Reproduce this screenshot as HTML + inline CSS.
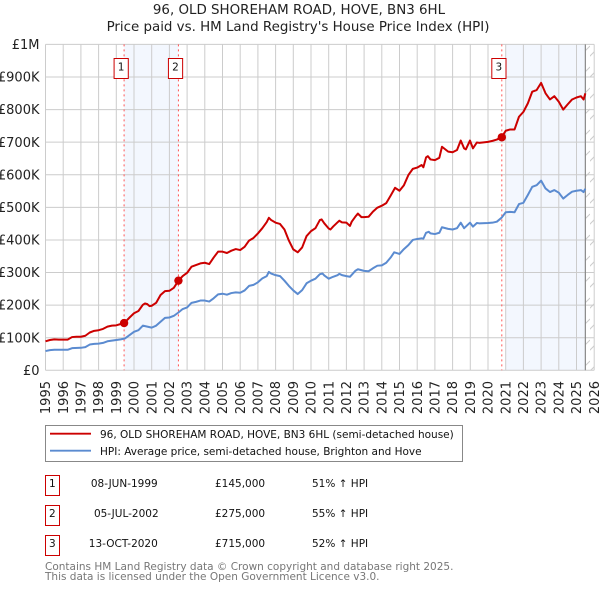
<!DOCTYPE html>
<html lang="en">
<head>
<meta charset="utf-8">
<title>96, OLD SHOREHAM ROAD, HOVE, BN3 6HL</title>
<style>
html,body{margin:0;padding:0;background:#fff;}
svg{display:block;font-family:"DejaVu Sans","Liberation Sans",sans-serif;}
</style>
</head>
<body>
<svg id="chart" xmlns="http://www.w3.org/2000/svg" width="600" height="590" viewBox="0 0 600 590">
  <defs>
    <pattern id="hatch" patternUnits="userSpaceOnUse" width="10" height="21">
      <line x1="-1" y1="15" x2="10" y2="4" stroke="#ccc" stroke-width="1"/>
    </pattern>
  </defs>
  <text x="299" y="14" text-anchor="middle" font-size="13.4" fill="#222">96, OLD SHOREHAM ROAD, HOVE, BN3 6HL</text>
  <text x="298" y="31" text-anchor="middle" font-size="13.4" fill="#222">Price paid vs. HM Land Registry's House Price Index (HPI)</text>
  <g id="shades"></g>
  <g id="grid"></g>
  <g id="ticks"></g>
  <g id="series"></g>
  <g id="sales"></g>

  <g>
    <rect x="45.5" y="425.5" width="417" height="36" fill="#fff" stroke="#888" stroke-width="1"/>
    <line x1="50" y1="433.7" x2="91" y2="433.7" stroke="#c00" stroke-width="1.8"/>
    <text x="100" y="438" font-size="10.5" fill="#111">96, OLD SHOREHAM ROAD, HOVE, BN3 6HL (semi-detached house)</text>
    <line x1="50" y1="450.7" x2="91" y2="450.7" stroke="#5b8bd0" stroke-width="1.8"/>
    <text x="100" y="455" font-size="10.5" fill="#111">HPI: Average price, semi-detached house, Brighton and Hove</text>
  </g>

  <g font-size="10.5" fill="#111">
    <g>
      <rect x="45.5" y="475.5" width="14" height="20" fill="#fff" stroke="#c00" stroke-width="1"/>
      <text x="52.3" y="487" text-anchor="middle">1</text>
      <text x="124.3" y="487" text-anchor="middle">08-JUN-1999</text>
      <text x="215" y="487">£145,000</text>
      <text x="312" y="487">51% ↑ HPI</text>
    </g>
    <g>
      <rect x="45.5" y="505.5" width="14" height="20" fill="#fff" stroke="#c00" stroke-width="1"/>
      <text x="52.3" y="517" text-anchor="middle">2</text>
      <text x="126.3" y="517" text-anchor="middle">05-JUL-2002</text>
      <text x="215" y="517">£275,000</text>
      <text x="312" y="517">55% ↑ HPI</text>
    </g>
    <g>
      <rect x="45.5" y="535.5" width="14" height="20" fill="#fff" stroke="#c00" stroke-width="1"/>
      <text x="52.3" y="547" text-anchor="middle">3</text>
      <text x="123.3" y="547" text-anchor="middle">13-OCT-2020</text>
      <text x="215" y="547">£715,000</text>
      <text x="312" y="547">52% ↑ HPI</text>
    </g>
  </g>

  <text x="45" y="570" font-size="10.5" fill="#777">Contains HM Land Registry data © Crown copyright and database right 2025.</text>
  <text x="45" y="580" font-size="10.5" fill="#777">This data is licensed under the Open Government Licence v3.0.</text>
</svg>
<script>
const yearTicks = [1995,1996,1997,1998,1999,2000,2001,2002,2003,2004,2005,2006,2007,2008,2009,2010,2011,2012,2013,2014,2015,2016,2017,2018,2019,2020,2021,2022,2023,2024,2025,2026];
const valueTicks = [0,100,200,300,400,500,600,700,800,900,1000];
const valueTickLabels = ['£0','£100K','£200K','£300K','£400K','£500K','£600K','£700K','£800K','£900K','£1M'];

const priceDates = [1995,1995.25,1995.5,1995.75,1996,1996.25,1996.5,1996.75,1997,1997.25,1997.5,1997.75,1998,1998.25,1998.5,1998.75,1999,1999.25,1999.44,1999.5,1999.75,2000,2000.25,2000.5,2000.62,2000.75,2000.88,2001,2001.25,2001.5,2001.75,2002,2002.25,2002.51,2002.75,2003,2003.25,2003.5,2003.75,2004,2004.25,2004.5,2004.75,2005,2005.25,2005.5,2005.75,2006,2006.25,2006.5,2006.75,2007,2007.25,2007.5,2007.62,2007.75,2008,2008.25,2008.5,2008.75,2009,2009.25,2009.5,2009.75,2010,2010.25,2010.5,2010.6,2010.75,2011,2011.1,2011.25,2011.5,2011.6,2011.75,2012,2012.2,2012.3,2012.5,2012.65,2012.85,2013,2013.25,2013.5,2013.75,2014,2014.25,2014.5,2014.75,2015,2015.25,2015.5,2015.75,2016,2016.25,2016.35,2016.5,2016.6,2016.75,2017,2017.25,2017.4,2017.75,2018,2018.25,2018.46,2018.65,2018.75,2018.98,2019.15,2019.37,2019.5,2020,2020.25,2020.5,2020.78,2021,2021.25,2021.5,2021.75,2022,2022.25,2022.5,2022.75,2023,2023.25,2023.5,2023.75,2024,2024.25,2024.5,2024.75,2025,2025.25,2025.4,2025.5];
const priceValues = [89,93,95,94,94,94,102,103,103,106,116,121,123,127,134,137,138,142,145,148,162,175,182,201,205,203,197,198,207,231,243,244,253,275,289,299,318,323,328,330,326,346,364,364,360,367,372,369,379,398,406,420,436,455,468,461,453,449,432,398,371,362,377,412,427,436,461,463,451,435,432,441,454,459,454,453,443,456,471,481,470,470,471,487,499,505,513,536,560,551,568,599,618,622,630,623,653,657,647,645,652,686,671,669,676,705,681,678,705,681,699,698,701,704,708,716,735,739,739,778,793,819,855,860,882,850,831,841,824,800,816,831,837,841,831,850];

const hpiDates = [1995,1995.25,1995.5,1995.75,1996,1996.25,1996.5,1997,1997.25,1997.5,1997.75,1998,1998.25,1998.5,1998.75,1999,1999.25,1999.5,1999.75,2000,2000.25,2000.5,2000.75,2001,2001.25,2001.5,2001.75,2002,2002.25,2002.5,2002.75,2003,2003.25,2003.5,2003.75,2004,2004.25,2004.5,2004.75,2005,2005.25,2005.5,2005.75,2006,2006.25,2006.5,2006.75,2007,2007.25,2007.5,2007.62,2007.75,2008,2008.25,2008.5,2008.75,2009,2009.25,2009.5,2009.75,2010,2010.25,2010.5,2010.65,2010.75,2011,2011.25,2011.5,2011.6,2011.75,2012,2012.2,2012.5,2012.65,2013,2013.25,2013.5,2013.75,2014,2014.25,2014.5,2014.7,2015,2015.25,2015.5,2015.75,2016,2016.25,2016.35,2016.5,2016.65,2016.75,2017,2017.25,2017.4,2017.75,2018,2018.25,2018.46,2018.65,2018.98,2019.15,2019.37,2019.5,2020,2020.25,2020.5,2020.78,2021,2021.25,2021.5,2021.75,2022,2022.25,2022.5,2022.75,2023,2023.25,2023.5,2023.75,2024,2024.25,2024.5,2024.75,2025,2025.25,2025.4,2025.5];
const hpiValues = [59,62,63,63,63,63,68,69,71,79,81,82,84,89,91,93,95,98,108,118,123,137,134,131,137,149,161,162,167,177,188,193,207,210,214,214,211,221,233,235,232,237,239,238,245,259,262,270,282,289,302,297,292,289,275,259,245,234,246,267,275,281,295,297,291,281,287,292,296,292,289,287,305,310,305,304,313,321,322,330,346,362,357,372,384,400,403,405,404,422,425,420,418,422,439,434,432,436,453,436,453,441,452,451,452,453,456,469,485,486,485,510,514,538,563,568,582,558,547,553,545,527,538,548,551,553,547,557];

const saleNumbers = ['1','2','3'];
const saleDates = [1999.44,2002.51,2020.78];
const saleValues = [145,275,715];
const shadedPeriods = [[1999.44,2002.51],[2021,2025.5]];
const dataEndYear = 2025.5;

const NS = 'http://www.w3.org/2000/svg';
const plotLeft = 45.5, plotRight = 594.2, plotTop = 44.4, plotBottom = 370.3;
const xScale = t => plotLeft + (t - 1995) * (plotRight - plotLeft) / 31;
const yScale = v => plotBottom - v * (plotBottom - plotTop) / 1000;

function make(tag, attrs, parent) {
  const el = document.createElementNS(NS, tag);
  for (const k in attrs) el.setAttribute(k, attrs[k]);
  parent.appendChild(el);
  return el;
}

const shades = document.getElementById('shades');
const grid = document.getElementById('grid');
const ticks = document.getElementById('ticks');
const series = document.getElementById('series');
const sales = document.getElementById('sales');

shadedPeriods.forEach(p => {
  const r = make('rect', {x: xScale(p[0]), y: plotTop, width: xScale(p[1]) - xScale(p[0]), height: plotBottom - plotTop, fill: '#f3f7fe'}, shades);
  
  
});

const hatchRect = make('rect', {x: xScale(dataEndYear), y: plotTop, width: plotRight - xScale(dataEndYear), height: plotBottom - plotTop, fill: 'url(#hatch)'}, shades);



yearTicks.forEach(yr => {
  const X = xScale(yr);
  const l = make('line', {x1: X, y1: plotTop, x2: X, y2: plotBottom, stroke: '#ccc', 'stroke-width': 1}, grid);
  
  
  const t = make('text', {x: 0, y: 0, 'font-size': 13, fill: '#222', 'text-anchor': 'end', transform: 'translate(' + (X + 4.6) + ',381) rotate(-90)'}, ticks);
  
  
  t.textContent = String(yr);
});

valueTicks.forEach((v, i) => {
  const Y = yScale(v);
  const l = make('line', {x1: plotLeft, y1: Y, x2: plotRight, y2: Y, stroke: '#ccc', 'stroke-width': 1}, grid);
  
  
  const t = make('text', {x: 39.5, y: Y + 4.6, 'font-size': 13, fill: '#222', 'text-anchor': 'end'}, ticks);
  
  
  t.textContent = valueTickLabels[i];
});

const endLine = make('line', {x1: xScale(dataEndYear), y1: plotTop, x2: xScale(dataEndYear), y2: plotBottom, stroke: '#888', 'stroke-width': 1.2}, grid);



saleDates.forEach((d, i) => {
  const X = xScale(d);
  const l = make('line', {x1: X, y1: plotTop, x2: X, y2: plotBottom, stroke: '#f55', 'stroke-width': 1, 'stroke-dasharray': '2,3'}, grid);
  
  
});

function linePath(xs, ys) {
  return xs.map((t, i) => (i ? 'L' : 'M') + xScale(t).toFixed(2) + ' ' + yScale(ys[i]).toFixed(2)).join('');
}

const hpiLine = make('path', {d: linePath(hpiDates, hpiValues), fill: 'none', stroke: '#5b8bd0', 'stroke-width': 2, 'stroke-linejoin': 'round'}, series);



const priceLine = make('path', {d: linePath(priceDates, priceValues), fill: 'none', stroke: '#c00', 'stroke-width': 2, 'stroke-linejoin': 'round'}, series);



saleDates.forEach((d, i) => {
  const X = xScale(d);
  const dot = make('circle', {cx: X, cy: yScale(saleValues[i]), r: 4.2, fill: '#c00'}, sales);
  
  
  const box = make('rect', {x: X - 10, y: 58.5, width: 14.2, height: 20, fill: '#fff', stroke: '#c00', 'stroke-width': 1}, sales);
  
  
  const label = make('text', {x: X - 3, y: 70.5, 'font-size': 10.5, fill: '#111', 'text-anchor': 'middle'}, sales);
  
  
  label.textContent = saleNumbers[i];
});
</script>
</body>
</html>
